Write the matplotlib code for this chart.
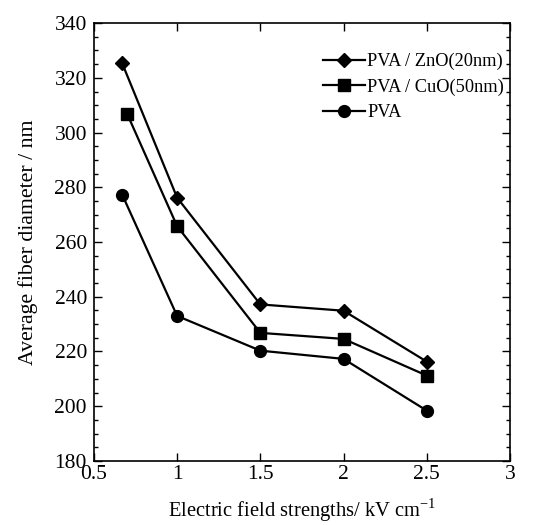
import matplotlib
matplotlib.use("Agg")
import matplotlib.pyplot as plt
from matplotlib.ticker import MultipleLocator

plt.rcParams['font.family'] = ['Liberation Serif', 'DejaVu Serif']
plt.rcParams['mathtext.fontset'] = 'custom'
plt.rcParams['mathtext.rm'] = 'Liberation Serif'

x_zno = [0.67, 1.0, 1.5, 2.0, 2.5]
y_zno = [325.3, 276.2, 237.2, 234.9, 216.3]
x_cuo = [0.70, 1.0, 1.5, 2.0, 2.5]
y_cuo = [306.8, 265.8, 226.8, 224.6, 211.2]
x_pva = [0.67, 1.0, 1.5, 2.0, 2.5]
y_pva = [277.3, 233.0, 220.3, 217.3, 198.4]
labels = ["PVA / ZnO(20nm)", "PVA / CuO(50nm)", "PVA"]

fig = plt.figure(figsize=(5.46, 5.25), dpi=100)
ax = fig.add_axes([0.172, 0.122, 0.762, 0.834])

ax.plot(x_zno, y_zno, color='black', lw=1.6, marker='D', ms=7.5, label=labels[0])
ax.plot(x_cuo, y_cuo, color='black', lw=1.6, marker='s', ms=8.5, label=labels[1])
ax.plot(x_pva, y_pva, color='black', lw=1.6, marker='o', ms=8.5, label=labels[2])

ax.set_xlim(0.5, 3)
ax.set_ylim(180, 340)
ax.set_xticks([0.5, 1, 1.5, 2, 2.5, 3])
ax.set_xticklabels(["0.5", "1", "1.5", "2", "2.5", "3"])
ax.yaxis.set_major_locator(MultipleLocator(20))
ax.yaxis.set_minor_locator(MultipleLocator(5))
ax.tick_params(which='both', direction='in', top=True, right=True, labelsize=15.5, width=1)
ax.tick_params(which='major', length=6)
ax.tick_params(which='minor', length=3)
ax.tick_params(axis='x', pad=3)
ax.tick_params(axis='y', pad=5)
for s in ax.spines.values():
    s.set_linewidth(1.2)

ax.set_xlabel("Electric field strengths/ kV cm$^{-1}$", fontsize=14.8, labelpad=9)
ax.set_ylabel("Average fiber diameter / nm", fontsize=15.7, labelpad=12)

ax.legend(loc='upper right', frameon=False, fontsize=13.2, handlelength=2.3,
          handletextpad=0.1, borderaxespad=0, borderpad=0, labelspacing=0.45,
          bbox_to_anchor=(0.985, 0.932))

fig.savefig("out.png", dpi=100)
